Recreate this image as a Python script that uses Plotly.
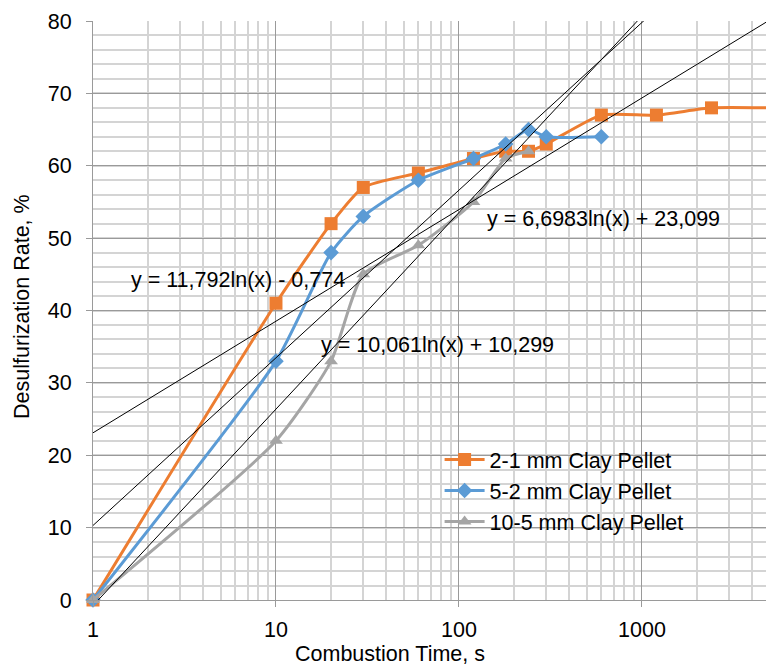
import numpy as np
import plotly.graph_objects as go

# ---- data ----
time_21 = [1, 10, 20, 30, 60, 120, 180, 240, 300, 600, 1200, 2400, 4800]
rate_21 = [0, 41, 52, 57, 59, 61, 62, 62, 63, 67, 67, 68, 68]

time_52 = [1, 10, 20, 30, 60, 120, 180, 240, 300, 600]
rate_52 = [0, 33, 48, 53, 58, 61, 63, 65, 64, 64]

time_105 = [1, 10, 20, 30, 60, 120, 180, 240]
rate_105 = [0, 22, 33, 45, 49, 55, 61, 62]

series_names = ["2-1 mm Clay Pellet", "5-2 mm Clay Pellet", "10-5 mm Clay Pellet"]

# logarithmic trendline coefficients y = a*ln(x) + b
trend_a = [6.6983, 10.061, 11.792]
trend_b = [23.099, 10.299, -0.774]
trend_labels = ["y = 6,6983ln(x) + 23,099", "y = 10,061ln(x) + 10,299", "y = 11,792ln(x) - 0,774"]

x_ticks = [1, 10, 100, 1000]
y_ticks = [0, 10, 20, 30, 40, 50, 60, 70, 80]

FONT = "Liberation Sans, Arial, sans-serif"
FS = 21.5
colors = ["#ED7D31", "#5B9BD5", "#A5A5A5"]
symbols = ["square", "diamond", "triangle-up"]
msizes = [13, 12, 12]

PL, PT, PW, PH = 93, 21, 673, 579
W, H = 766, 666

fig = go.Figure()
for xs, ys, name, c, s, ms in zip([time_21, time_52, time_105],
                                  [rate_21, rate_52, rate_105],
                                  series_names, colors, symbols, msizes):
    fig.add_trace(go.Scatter(x=xs, y=ys, name=name, mode="lines+markers",
                             line=dict(color=c, width=3, shape="spline", smoothing=0.6),
                             marker=dict(symbol=s, size=ms, color=c),
                             cliponaxis=False))

x_end = 10 ** 3.7
for a, b in zip(trend_a, trend_b):
    xs = np.array([1.0, x_end])
    fig.add_trace(go.Scatter(x=xs, y=a * np.log(xs) + b, mode="lines",
                             line=dict(color="black", width=1), showlegend=False,
                             hoverinfo="skip"))

# minor grid positions
minor_x = [m * 10 ** d for d in range(0, 4) for m in range(2, 10)]

fig.update_layout(
    width=W, height=H,
    margin=dict(l=PL, r=W - PL - PW, t=PT, b=H - PT - PH),
    paper_bgcolor="white", plot_bgcolor="white",
    font=dict(family=FONT, size=FS, color="black"),
    showlegend=True,
    legend=dict(x=0.515, y=0.278, xanchor="left", yanchor="top",
                bgcolor="rgba(0,0,0,0)", font=dict(size=FS, family=FONT),
                tracegroupgap=0, itemwidth=40),
)
fig.update_xaxes(
    type="log", range=[0, 3.678], automargin=False,
    tickmode="array", tickvals=x_ticks, ticktext=[str(v) for v in x_ticks],
    showgrid=True, gridcolor="#9a9a9a", gridwidth=1,
    showline=True, linecolor="#9a9a9a", linewidth=1,
    ticks="outside", ticklen=6, tickcolor="#9a9a9a",
    ticklabelstandoff=4,
    minor=dict(tickmode="array", tickvals=minor_x, showgrid=True,
               gridcolor="#d4d4d4", gridwidth=1.5, ticks=""),
    zeroline=False,
    tickfont=dict(size=FS, family=FONT),
)
fig.update_yaxes(
    range=[0, 80], tickmode="array", tickvals=y_ticks, automargin=False,
    showgrid=True, gridcolor="#9a9a9a", gridwidth=1,
    showline=True, linecolor="#9a9a9a", linewidth=1,
    ticks="outside", ticklen=6, tickcolor="#9a9a9a",
    ticklabelstandoff=10,
    minor=dict(dtick=2, showgrid=True, gridcolor="#d4d4d4", gridwidth=1.5, ticks=""),
    zeroline=False,
    tickfont=dict(size=FS, family=FONT),
)

# trendline equation labels (paper coords relative to plot area)
label_pos = [(0.758, 0.658), (0.5126, 0.4404), (0.2155, 0.5527)]
for txt, (px, py) in zip(trend_labels, label_pos):
    fig.add_annotation(text=txt, xref="paper", yref="paper", x=px, y=py,
                       showarrow=False, font=dict(size=FS, family=FONT, color="black"),
                       xanchor="center", yanchor="middle")

# axis titles
fig.add_annotation(text="Combustion Time, s", xref="paper", yref="paper",
                   x=(390 - 93) / PW, y=(600 - 654) / PH, showarrow=False,
                   font=dict(size=FS, family=FONT), xanchor="center", yanchor="middle")
fig.add_annotation(text="Desulfurization Rate, %", xref="paper", yref="paper",
                   x=(22 - 93) / PW, y=(600 - 307) / PH, showarrow=False, textangle=-90,
                   font=dict(size=FS, family=FONT), xanchor="center", yanchor="middle")

fig.write_html("out.html", config={"displayModeBar": False},
               post_script="document.body.style.margin='0';document.body.style.overflow='hidden';")
